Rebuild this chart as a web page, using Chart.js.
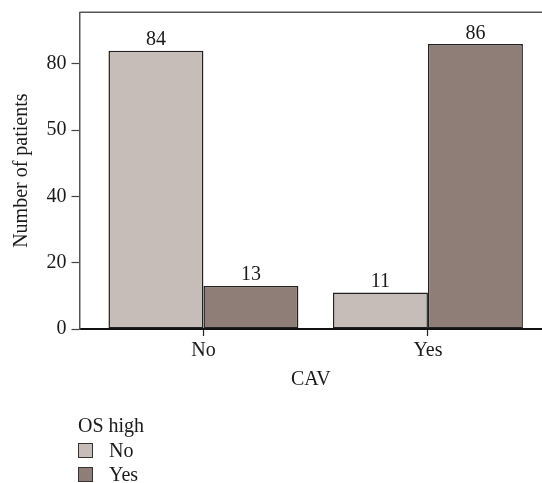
<!DOCTYPE html>
<html>
<head>
<meta charset="utf-8">
<script src="https://cdn.jsdelivr.net/npm/chart.js@4/dist/chart.umd.min.js"></script>
<style>
  html, body { margin: 0; padding: 0; background: #fff; overflow: hidden; }
  #wrap { position: relative; width: 542px; height: 483px; }
  #legend { position: absolute; left: 78px; top: 412px; font: 20px "Liberation Serif", serif; color: #1a1a1a; }
  #legend .row { display: flex; align-items: center; height: 23.5px; }
  #legend .box { width: 13px; height: 13px; border: 1px solid #333; margin-right: 16px; }
  #legend .ttl { height: 27px; line-height: 26px; }
</style>
</head>
<body>
<div id="wrap">
  <canvas id="c" width="542" height="483"></canvas>
  <div id="legend"></div>
</div>
<script>
// CAV groups on the x axis
const categories = ['No', 'Yes'];
// OS high series
const osHighNo = [84, 11];
const osHighYes = [13, 86];
const seriesNames = ['No', 'Yes'];
// y ticks (label at 60 reads "50" in the original figure)
const yTickValues = [0, 20, 40, 60, 80];
const yTickLabels = ['0', '20', '40', '50', '80'];

const FONT = { family: '"Liberation Serif", serif', size: 20 };
const INK = '#1a1a1a';

const toPoints = arr => arr.map((v, i) => ({ x: i, y: v }));

// value labels above bars + top frame line
const extras = {
  id: 'extras',
  afterDatasetsDraw(chart) {
    const ctx = chart.ctx;
    const area = chart.chartArea;
    ctx.save();
    ctx.strokeStyle = '#555';
    ctx.lineWidth = 1.5;
    ctx.beginPath();
    ctx.moveTo(area.left, area.top);
    ctx.lineTo(area.right, area.top);
    ctx.stroke();

    ctx.fillStyle = INK;
    ctx.font = FONT.size + 'px ' + FONT.family;
    ctx.textAlign = 'center';
    ctx.textBaseline = 'alphabetic';
    chart.data.datasets.forEach((ds, di) => {
      chart.getDatasetMeta(di).data.forEach((bar, i) => {
        ctx.fillText(String(ds.data[i].y), bar.x, bar.y - 5.5);
      });
    });
    ctx.restore();
  }
};

const chart = new Chart(document.getElementById('c'), {
  type: 'bar',
  data: {
    datasets: [
      {
        label: seriesNames[0],
        data: toPoints(osHighNo),
        backgroundColor: '#c6bcb8',
        borderColor: '#222',
        borderWidth: 1.5,
        borderSkipped: false,
        categoryPercentage: 0.846,
        barPercentage: 1
      },
      {
        label: seriesNames[1],
        data: toPoints(osHighYes),
        backgroundColor: '#8f7e77',
        borderColor: '#222',
        borderWidth: 1.5,
        borderSkipped: false,
        categoryPercentage: 0.846,
        barPercentage: 1
      }
    ]
  },
  options: {
    responsive: false,
    animation: false,
    layout: { padding: { top: 12.3, right: 0, left: 0, bottom: 91 } },
    plugins: {
      legend: { display: false },
      tooltip: { enabled: false }
    },
    scales: {
      x: {
        type: 'linear',
        offset: false,
        min: -0.552,
        max: 1.508,
        afterBuildTicks: s => { s.ticks = categories.map((c, i) => ({ value: i })); },
        afterFit: s => { s.height = 63; s.paddingLeft = 0; s.paddingRight = 0; },
        ticks: {
          autoSkip: false,
          padding: 3,
          color: INK,
          font: FONT,
          callback: v => categories[v]
        },
        grid: { display: true, offset: false, drawOnChartArea: false, drawTicks: true, tickLength: 7, color: '#222', tickWidth: 1.2 },
        border: { display: true, color: '#111', width: 2 },
        title: { display: true, text: 'CAV', color: INK, font: FONT, padding: { top: 0, bottom: 0 } }
      },
      y: {
        min: 0,
        max: 95.6,
        afterBuildTicks: s => { s.ticks = yTickValues.map(v => ({ value: v })); },
        afterFit: s => { s.width = 79.5; s.paddingTop = 0; s.paddingBottom = 0; },
        ticks: {
          padding: 5,
          color: INK,
          font: FONT,
          callback: (v, i) => yTickLabels[i]
        },
        grid: { display: true, drawOnChartArea: false, drawTicks: true, tickLength: 8, color: '#444', tickWidth: 1.2 },
        border: { display: true, color: '#555', width: 1.5 },
        title: { display: true, text: 'Number of patients', color: INK, font: FONT, padding: { top: 9.5, bottom: 0 } }
      }
    }
  },
  plugins: [extras]
});

// legend built from the datasets
const legend = document.getElementById('legend');
let html = '<div class="ttl">OS high</div>';
chart.data.datasets.forEach(ds => {
  html += '<div class="row"><span class="box" style="background:' + ds.backgroundColor + '"></span>' + ds.label + '</div>';
});
legend.innerHTML = html;
</script>
</body>
</html>
